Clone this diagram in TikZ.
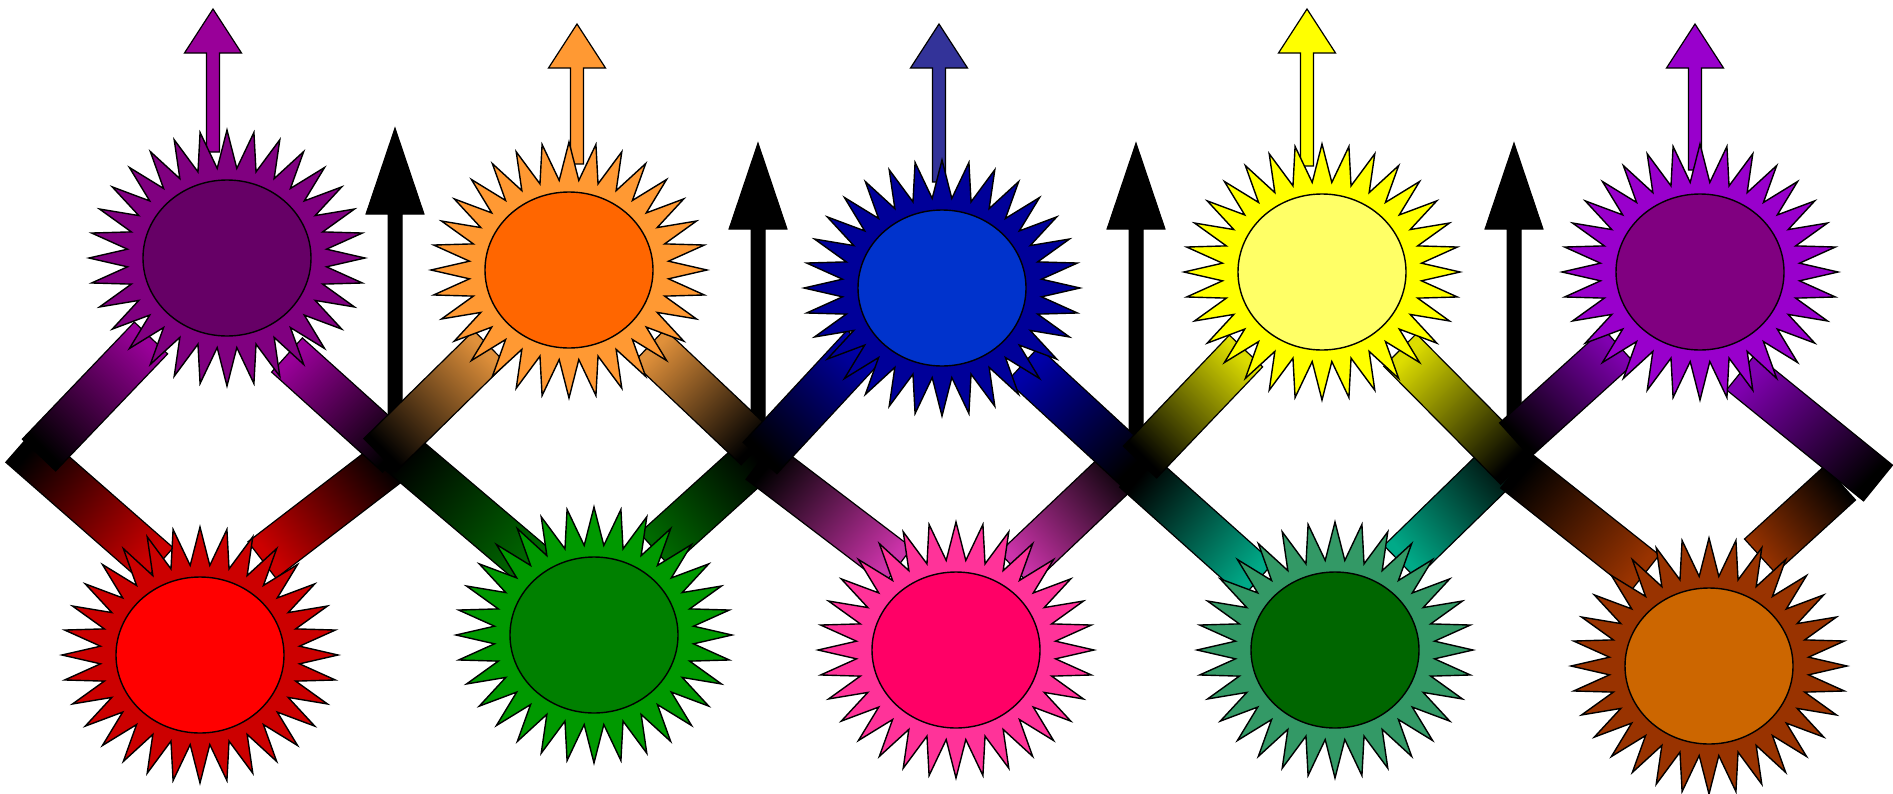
\documentclass[tikz,border=0pt]{standalone}
\usetikzlibrary{calc,shapes.symbols,shapes.geometric}
\pgfdeclarelayer{bg}
\pgfsetlayers{bg,main}
% sun (burst) / core / bar / arrow colours
\definecolor{sTa}{HTML}{800080}\definecolor{cTa}{HTML}{660066}\definecolor{rTa}{HTML}{990099}\definecolor{aTa}{HTML}{990099}
\definecolor{sTb}{HTML}{FF9933}\definecolor{cTb}{HTML}{FF6600}\definecolor{rTb}{HTML}{E0903A}\definecolor{aTb}{HTML}{FF9933}
\definecolor{sTc}{HTML}{000099}\definecolor{cTc}{HTML}{0033CC}\definecolor{rTc}{HTML}{0000AA}\definecolor{aTc}{HTML}{333399}
\definecolor{sTd}{HTML}{FFFF00}\definecolor{cTd}{HTML}{FFFF66}\definecolor{rTd}{HTML}{DDDD00}\definecolor{aTd}{HTML}{FFFF00}
\definecolor{sTe}{HTML}{9900CC}\definecolor{cTe}{HTML}{800080}\definecolor{rTe}{HTML}{8000B0}\definecolor{aTe}{HTML}{9900CC}
\definecolor{sBa}{HTML}{CC0000}\definecolor{cBa}{HTML}{FF0000}\definecolor{rBa}{HTML}{CC0000}
\definecolor{sBb}{HTML}{009900}\definecolor{cBb}{HTML}{008000}\definecolor{rBb}{HTML}{006A00}
\definecolor{sBc}{HTML}{FF3399}\definecolor{cBc}{HTML}{FF0066}\definecolor{rBc}{HTML}{CC33AA}
\definecolor{sBd}{HTML}{339966}\definecolor{cBd}{HTML}{006600}\definecolor{rBd}{HTML}{00AA88}
\definecolor{sBe}{HTML}{993300}\definecolor{cBe}{HTML}{CC6600}\definecolor{rBe}{HTML}{993300}
\tikzset{
  burst/.style={starburst, starburst points=32, starburst point height=38pt,
    random starburst=0, minimum width=276pt, minimum height=256pt,
    inner sep=0pt, draw=black, line width=1.4pt},
  core/.style={ellipse, minimum width=168pt, minimum height=156pt,
    inner sep=0pt, draw=black, line width=1.4pt},
  barline/.style={draw=black, line width=1.2pt},
  outarrow/.style={draw=black, line width=1.2pt},
  blackarrow/.style={fill=black, draw=black, line width=1pt}
}
\newcommand\vblock[6]{%
  \path[#1] let \p1=(#2), \p2=(#3) in
    (\x2-#4,\y1) -- (\x2-#4,\y2-#6) -- (\x2-#5,\y2-#6) -- (\x2,\y2)
    -- (\x2+#5,\y2-#6) -- (\x2+#4,\y2-#6) -- (\x2+#4,\y1) -- cycle;}
\newcommand\shadebar[4]{%
  \path[barline, top color=#1, bottom color=black, shading angle=#2]
    ($(#3)!23pt!90:(#4)$) -- ($(#4)!23pt!-90:(#3)$) --
    ($(#4)!23pt!90:(#3)$) -- ($(#3)!23pt!-90:(#4)$) -- cycle;}
\begin{document}
\begin{tikzpicture}[x=1pt, y=-1pt]
\useasboundingbox (0,0) rectangle (1893,793);
% ---------- suns ----------
\node[burst, fill=sTa] (t1) at (227,258) {};
\node[core, fill=cTa] (t1c) at (t1) {};
\node[burst, fill=sTb] (t2) at (569,270) {};
\node[core, fill=cTb] (t2c) at (t2) {};
\node[burst, fill=sTc] (t3) at (942,288) {};
\node[core, fill=cTc] (t3c) at (t3) {};
\node[burst, fill=sTd] (t4) at (1322,272) {};
\node[core, fill=cTd] (t4c) at (t4) {};
\node[burst, fill=sTe] (t5) at (1700,272) {};
\node[core, fill=cTe] (t5c) at (t5) {};
\node[burst, fill=sBa] (b1) at (200,655) {};
\node[core, fill=cBa] (b1c) at (b1) {};
\node[burst, fill=sBb] (b2) at (594,635) {};
\node[core, fill=cBb] (b2c) at (b2) {};
\node[burst, fill=sBc] (b3) at (956,650) {};
\node[core, fill=cBc] (b3c) at (b3) {};
\node[burst, fill=sBd] (b4) at (1335,650) {};
\node[core, fill=cBd] (b4c) at (b4) {};
\node[burst, fill=sBe] (b5) at (1709,666) {};
\node[core, fill=cBe] (b5c) at (b5) {};
% ---------- bar start points (under the suns) ----------
\coordinate (t1Ls) at ($(t1)+(-76,80)$);  \coordinate (t1Rs) at ($(t1)+(60,97)$);
\coordinate (t2Ls) at ($(t2)+(-79,77)$);  \coordinate (t2Rs) at ($(t2)+(80,76)$);
\coordinate (t3Ls) at ($(t3)+(-78,58)$);  \coordinate (t3Rs) at ($(t3)+(81,76)$);
\coordinate (t4Ls) at ($(t4)+(-76,79)$);  \coordinate (t4Rs) at ($(t4)+(78,78)$);
\coordinate (t5Ls) at ($(t5)+(-81,74)$);  \coordinate (t5Rs) at ($(t5)+(41,100)$);
\coordinate (b1Ls) at ($(b1)+(-42,-90)$); \coordinate (b1Rs) at ($(b1)+(62,-95)$);
\coordinate (b2Ls) at ($(b2)+(-54,-64)$); \coordinate (b2Rs) at ($(b2)+(61,-85)$);
\coordinate (b3Ls) at ($(b3)+(-58,-84)$); \coordinate (b3Rs) at ($(b3)+(59,-81)$);
\coordinate (b4Ls) at ($(b4)+(-77,-70)$); \coordinate (b4Rs) at ($(b4)+(65,-88)$);
\coordinate (b5Ls) at ($(b5)+(-64,-93)$); \coordinate (b5Rs) at ($(b5)+(51,-110)$);
% ---------- bar end points (crossings) ----------
\coordinate (t1Le) at (39,455);   \coordinate (t1Re) at (398,455);
\coordinate (t2Le) at (380,455);  \coordinate (t2Re) at (757,448);
\coordinate (t3Le) at (760,458);  \coordinate (t3Re) at (1138,470);
\coordinate (t4Le) at (1140,462); \coordinate (t4Re) at (1517,468);
\coordinate (t5Le) at (1515,440); \coordinate (t5Re) at (1878,483);
\coordinate (b1Le) at (21,445);   \coordinate (b1Re) at (395,458);
\coordinate (b2Le) at (395,448);  \coordinate (b2Re) at (760,455);
\coordinate (b3Le) at (760,461);  \coordinate (b3Re) at (1130,460);
\coordinate (b4Le) at (1135,470); \coordinate (b4Re) at (1515,450);
\coordinate (b5Le) at (1515,470); \coordinate (b5Re) at (1840,483);
% ---------- black arrows ----------
\coordinate (m1) at (395,455);  \coordinate (k1) at (395,128);
\coordinate (m2) at (758,455);  \coordinate (k2) at (758,143);
\coordinate (m3) at (1136,462); \coordinate (k3) at (1136,143);
\coordinate (m4) at (1514,458); \coordinate (k4) at (1514,143);
% ---------- coloured arrows ----------
\coordinate (a1s) at ($(t1)+(-14,-106)$);  \coordinate (a1t) at (213,9);
\coordinate (a2s) at ($(t2)+(8,-106)$);    \coordinate (a2t) at (577,24);
\coordinate (a3s) at ($(t3)+(-3,-106)$);   \coordinate (a3t) at (939,24);
\coordinate (a4s) at ($(t4)+(-15,-106)$);  \coordinate (a4t) at (1307,9);
\coordinate (a5s) at ($(t5)+(-5,-102)$);   \coordinate (a5t) at (1695,24);
\begin{pgfonlayer}{bg}
  \vblock{blackarrow}{m1}{k1}{7pt}{29pt}{86pt}
  \vblock{blackarrow}{m2}{k2}{7pt}{29pt}{86pt}
  \vblock{blackarrow}{m3}{k3}{7pt}{29pt}{86pt}
  \vblock{blackarrow}{m4}{k4}{7pt}{29pt}{86pt}
  % bottom bars
  \shadebar{rBa}{-130}{b1Ls}{b1Le} \shadebar{rBa}{130}{b1Rs}{b1Re}
  \shadebar{rBb}{-130}{b2Ls}{b2Le} \shadebar{rBb}{130}{b2Rs}{b2Re}
  \shadebar{rBc}{-130}{b3Ls}{b3Le} \shadebar{rBc}{130}{b3Rs}{b3Re}
  \shadebar{rBd}{-130}{b4Ls}{b4Le} \shadebar{rBd}{130}{b4Rs}{b4Re}
  \shadebar{rBe}{-130}{b5Ls}{b5Le} \shadebar{rBe}{130}{b5Rs}{b5Re}
  % top bars
  \shadebar{rTa}{-45}{t1Ls}{t1Le} \shadebar{rTa}{45}{t1Rs}{t1Re}
  \shadebar{rTb}{-45}{t2Ls}{t2Le} \shadebar{rTb}{45}{t2Rs}{t2Re}
  \shadebar{rTc}{-45}{t3Ls}{t3Le} \shadebar{rTc}{45}{t3Rs}{t3Re}
  \shadebar{rTd}{-45}{t4Ls}{t4Le} \shadebar{rTd}{45}{t4Rs}{t4Re}
  \shadebar{rTe}{-45}{t5Ls}{t5Le} \shadebar{rTe}{45}{t5Rs}{t5Re}
  % coloured output arrows
  \vblock{outarrow, fill=aTa}{a1s}{a1t}{6.5pt}{28.5pt}{44pt}
  \vblock{outarrow, fill=aTb}{a2s}{a2t}{6.5pt}{28.5pt}{44pt}
  \vblock{outarrow, fill=aTc}{a3s}{a3t}{6.5pt}{28.5pt}{44pt}
  \vblock{outarrow, fill=aTd}{a4s}{a4t}{6.5pt}{28.5pt}{44pt}
  \vblock{outarrow, fill=aTe}{a5s}{a5t}{6.5pt}{28.5pt}{44pt}
\end{pgfonlayer}
\end{tikzpicture}
\end{document}
